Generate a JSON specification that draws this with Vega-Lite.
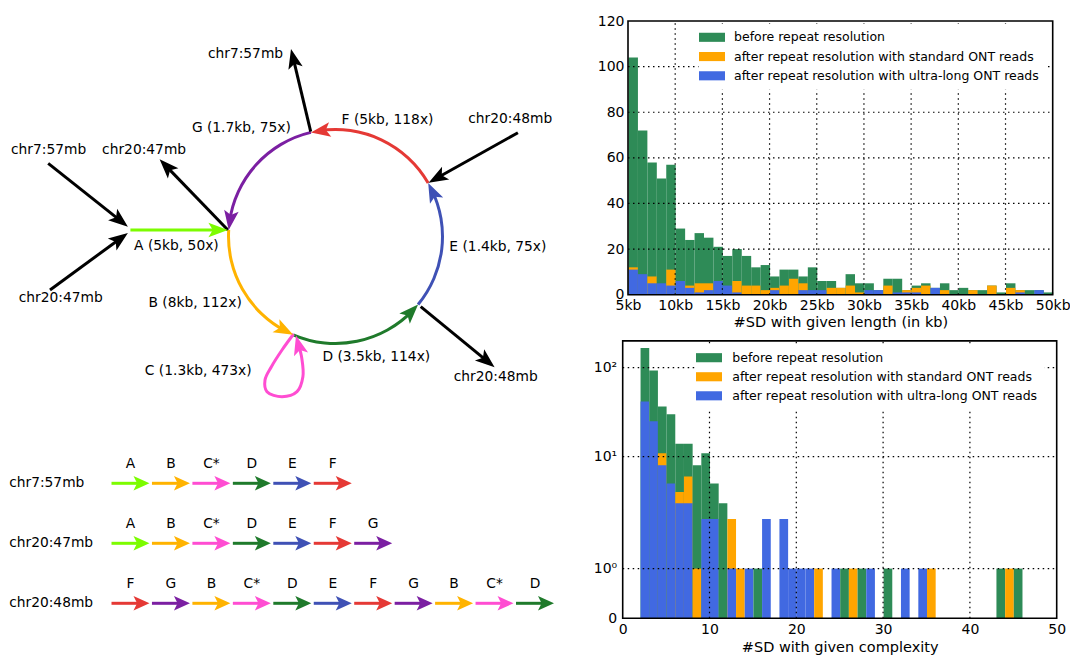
{
  "$schema": "https://vega.github.io/schema/vega-lite/v6.json",
  "width": 1070,
  "height": 656,
  "autosize": {"type": "none"},
  "padding": 0,
  "background": "white",
  "datasets": {
    "h1": [
      {"len":5,"before":104,"standard":12,"ultra":11},
      {"len":6,"before":72,"standard":0,"ultra":9},
      {"len":7,"before":58,"standard":8,"ultra":5},
      {"len":8,"before":51,"standard":0,"ultra":5},
      {"len":9,"before":57,"standard":11,"ultra":4},
      {"len":10,"before":29,"standard":0,"ultra":6},
      {"len":11,"before":24,"standard":4,"ultra":3},
      {"len":12,"before":27,"standard":5,"ultra":1},
      {"len":13,"before":25,"standard":5,"ultra":2},
      {"len":14,"before":21,"standard":0,"ultra":6},
      {"len":15,"before":17,"standard":0,"ultra":4},
      {"len":16,"before":20,"standard":6,"ultra":1},
      {"len":17,"before":17,"standard":4,"ultra":0},
      {"len":18,"before":12,"standard":4,"ultra":0},
      {"len":19,"before":13,"standard":2,"ultra":0},
      {"len":20,"before":8,"standard":3,"ultra":2},
      {"len":21,"before":11,"standard":4,"ultra":0},
      {"len":22,"before":11,"standard":7,"ultra":0},
      {"len":23,"before":8,"standard":5,"ultra":2},
      {"len":24,"before":12,"standard":0,"ultra":2},
      {"len":25,"before":6,"standard":0,"ultra":2},
      {"len":26,"before":6,"standard":3,"ultra":0},
      {"len":27,"before":3,"standard":3,"ultra":0},
      {"len":28,"before":9,"standard":4,"ultra":0},
      {"len":29,"before":5,"standard":1,"ultra":0},
      {"len":30,"before":5,"standard":0,"ultra":2},
      {"len":31,"before":2,"standard":0,"ultra":2},
      {"len":32,"before":7,"standard":4,"ultra":0},
      {"len":33,"before":7,"standard":0,"ultra":1},
      {"len":34,"before":2,"standard":2,"ultra":1},
      {"len":35,"before":4,"standard":3,"ultra":1},
      {"len":36,"before":5,"standard":4,"ultra":0},
      {"len":37,"before":3,"standard":0,"ultra":3},
      {"len":38,"before":5,"standard":2,"ultra":0},
      {"len":39,"before":2,"standard":0,"ultra":0},
      {"len":40,"before":3,"standard":0,"ultra":0},
      {"len":41,"before":2,"standard":2,"ultra":0},
      {"len":42,"before":2,"standard":0,"ultra":0},
      {"len":43,"before":4,"standard":4,"ultra":0},
      {"len":44,"before":1,"standard":0,"ultra":0},
      {"len":45,"before":5,"standard":3,"ultra":0},
      {"len":46,"before":2,"standard":2,"ultra":1},
      {"len":47,"before":2,"standard":0,"ultra":0},
      {"len":48,"before":2,"standard":0,"ultra":2},
      {"len":49,"before":1,"standard":0,"ultra":0}
    ],
    "h2": [
      {"c":2,"before":168,"standard":0,"ultra":42},
      {"c":3,"before":94,"standard":0,"ultra":25},
      {"c":4,"before":37,"standard":11,"ultra":8},
      {"c":5,"before":30,"standard":0,"ultra":5},
      {"c":6,"before":14,"standard":4,"ultra":3},
      {"c":7,"before":14,"standard":6,"ultra":3},
      {"c":8,"before":8,"standard":1,"ultra":0},
      {"c":9,"before":11,"standard":0,"ultra":2},
      {"c":10,"before":5,"standard":0,"ultra":2},
      {"c":11,"before":3,"standard":0,"ultra":0},
      {"c":12,"before":0,"standard":2,"ultra":1},
      {"c":13,"before":0,"standard":1,"ultra":0},
      {"c":14,"before":0,"standard":0,"ultra":1},
      {"c":15,"before":1,"standard":0,"ultra":0},
      {"c":16,"before":0,"standard":0,"ultra":2},
      {"c":18,"before":0,"standard":0,"ultra":2},
      {"c":19,"before":0,"standard":0,"ultra":1},
      {"c":20,"before":0,"standard":0,"ultra":1},
      {"c":21,"before":0,"standard":0,"ultra":1},
      {"c":22,"before":0,"standard":1,"ultra":0},
      {"c":24,"before":0,"standard":0,"ultra":1},
      {"c":25,"before":1,"standard":0,"ultra":0},
      {"c":26,"before":0,"standard":1,"ultra":0},
      {"c":27,"before":1,"standard":0,"ultra":0},
      {"c":28,"before":0,"standard":0,"ultra":1},
      {"c":30,"before":1,"standard":0,"ultra":0},
      {"c":32,"before":0,"standard":0,"ultra":1},
      {"c":34,"before":0,"standard":0,"ultra":1},
      {"c":35,"before":0,"standard":1,"ultra":0},
      {"c":43,"before":1,"standard":0,"ultra":0},
      {"c":44,"before":0,"standard":1,"ultra":0},
      {"c":45,"before":1,"standard":0,"ultra":0}
    ],
    "g1x": [{"t":10},{"t":15},{"t":20},{"t":25},{"t":30},{"t":35},{"t":40},{"t":45}],
    "g1y": [{"t":20},{"t":40},{"t":60},{"t":80},{"t":100}],
    "g2x": [{"t":10},{"t":20},{"t":30},{"t":40}],
    "g2y": [{"t":1},{"t":10},{"t":100}],
    "arcs": [
      {"seg":"G","t1":277.5,"t2":346.7},
      {"seg":"F","t1":350.7,"t2":420},
      {"seg":"E","t1":64,"t2":129.5},
      {"seg":"D","t1":133.5,"t2":203.3},
      {"seg":"B","t1":207.3,"t2":273.5}
    ],
    "edges": [
      {"seg":"ext","x1":-24.8,"y1":104.8,"x2":-42.6,"y2":179.7},
      {"seg":"ext","x1":-287.3,"y1":73.2,"x2":-213.9,"y2":14.8},
      {"seg":"ext","x1":-107.6,"y1":6.5,"x2":-170.3,"y2":71.4},
      {"seg":"ext","x1":-285.5,"y1":-53.5,"x2":-214.1,"y2":-1.2},
      {"seg":"ext","x1":182.4,"y1":103.8,"x2":100.1,"y2":57.7},
      {"seg":"ext","x1":85.2,"y1":-70.2,"x2":152.9,"y2":-125.7},
      {"seg":"A","x1":-205.1,"y1":6.5,"x2":-115.6,"y2":6.5}
    ],
    "heads": [
      {"seg":"ext","x":-44.5,"y":187.5,"dir":346.6},
      {"seg":"ext","x":-207.6,"y":9.8,"dir":128.5},
      {"seg":"ext","x":-175.9,"y":77.2,"dir":316},
      {"seg":"ext","x":-207.6,"y":3.5,"dir":53.8},
      {"seg":"ext","x":93.1,"y":53.8,"dir":240.8},
      {"seg":"ext","x":159.1,"y":-130.8,"dir":129.4},
      {"seg":"A","x":-107.6,"y":6.5,"dir":90},
      {"seg":"G","x":-106.8,"y":6.5,"dir":188},
      {"seg":"F","x":-24.6,"y":104.1,"dir":261.2},
      {"seg":"E","x":92.7,"y":53.5,"dir":334.5},
      {"seg":"D","x":82.6,"y":-68.1,"dir":44},
      {"seg":"B","x":-42.3,"y":-98.3,"dir":117.8},
      {"seg":"C","x":-39.5,"y":-99,"dir":345}
    ],
    "loop": [
      {"k":0,"x":-41.9,"y":-97.5},
      {"k":1,"x":-53.5,"y":-113.5},
      {"k":2,"x":-64.1,"y":-130.2},
      {"k":3,"x":-70.5,"y":-143.5},
      {"k":4,"x":-68.5,"y":-155.2},
      {"k":5,"x":-53.5,"y":-160.2},
      {"k":6,"x":-38.5,"y":-155.2},
      {"k":7,"x":-32.6,"y":-140.2},
      {"k":8,"x":-33.7,"y":-121.8},
      {"k":9,"x":-37.3,"y":-107}
    ],
    "dlabels": [
      {"x":-90,"y":182.5,"label":"chr7:57mb"},
      {"x":-94.1,"y":108.2,"label":"G (1.7kb, 75x)"},
      {"x":52,"y":116.5,"label":"F (5kb, 118x)"},
      {"x":174.7,"y":117.2,"label":"chr20:48mb"},
      {"x":-286.9,"y":86.5,"label":"chr7:57mb"},
      {"x":-191.4,"y":86.5,"label":"chr20:47mb"},
      {"x":-159.1,"y":-9.5,"label":"A (5kb, 50x)"},
      {"x":-274.8,"y":-61.8,"label":"chr20:47mb"},
      {"x":162.4,"y":-10.8,"label":"E (1.4kb, 75x)"},
      {"x":-140.3,"y":-66.8,"label":"B (8kb, 112x)"},
      {"x":40.8,"y":-120.8,"label":"D (3.5kb, 114x)"},
      {"x":-137.3,"y":-134.2,"label":"C (1.3kb, 473x)"},
      {"x":160.2,"y":-140.2,"label":"chr20:48mb"}
    ],
    "seq": [
      {"row":"chr7:57mb","i":0,"seg":"A","lab":"A"},
      {"row":"chr7:57mb","i":1,"seg":"B","lab":"B"},
      {"row":"chr7:57mb","i":2,"seg":"C","lab":"C*"},
      {"row":"chr7:57mb","i":3,"seg":"D","lab":"D"},
      {"row":"chr7:57mb","i":4,"seg":"E","lab":"E"},
      {"row":"chr7:57mb","i":5,"seg":"F","lab":"F"},
      {"row":"chr20:47mb","i":0,"seg":"A","lab":"A"},
      {"row":"chr20:47mb","i":1,"seg":"B","lab":"B"},
      {"row":"chr20:47mb","i":2,"seg":"C","lab":"C*"},
      {"row":"chr20:47mb","i":3,"seg":"D","lab":"D"},
      {"row":"chr20:47mb","i":4,"seg":"E","lab":"E"},
      {"row":"chr20:47mb","i":5,"seg":"F","lab":"F"},
      {"row":"chr20:47mb","i":6,"seg":"G","lab":"G"},
      {"row":"chr20:48mb","i":0,"seg":"F","lab":"F"},
      {"row":"chr20:48mb","i":1,"seg":"G","lab":"G"},
      {"row":"chr20:48mb","i":2,"seg":"B","lab":"B"},
      {"row":"chr20:48mb","i":3,"seg":"C","lab":"C*"},
      {"row":"chr20:48mb","i":4,"seg":"D","lab":"D"},
      {"row":"chr20:48mb","i":5,"seg":"E","lab":"E"},
      {"row":"chr20:48mb","i":6,"seg":"F","lab":"F"},
      {"row":"chr20:48mb","i":7,"seg":"G","lab":"G"},
      {"row":"chr20:48mb","i":8,"seg":"B","lab":"B"},
      {"row":"chr20:48mb","i":9,"seg":"C","lab":"C*"},
      {"row":"chr20:48mb","i":10,"seg":"D","lab":"D"}
    ]
  },
  "layer": [
    {
      "layer": [
        {
          "data": {"name": "h1"},
          "transform": [{"fold": ["before","standard","ultra"], "as": ["series","n"]}],
          "mark": {"type": "bar", "binSpacing": 0},
          "encoding": {
            "x": {"field": "len", "type": "quantitative", "bin": {"binned": true, "step": 1},
              "scale": {"domain": [5,50], "range": [628,1052.7]},
              "axis": {"orient": "bottom", "offset": -361.3, "values": [5,10,15,20,25,30,35,40,45,50], "labelExpr": "datum.value + 'kb'", "title": "#SD with given length (in kb)", "labelPadding": 4, "titlePadding": 3}},
            "y": {"field": "n", "type": "quantitative", "stack": null,
              "scale": {"domain": [0,120], "range": [294.7,21]},
              "axis": {"orient": "left", "offset": -628, "values": [0,20,40,60,80,100,120], "title": null, "labelPadding": 4}},
            "color": {"field": "series", "type": "nominal",
              "scale": {"domain": ["before","standard","ultra"], "range": ["#2e8b57","#ffa500","#4169e1"]},
              "legend": {"orient": "none", "legendX": 698.5, "legendY": 23.8, "title": null, "padding": 7, "fillColor": "white",
                "symbolType": "M-2,-0.7H2V0.7H-2Z", "symbolSize": 169, "symbolStrokeWidth": 0, "symbolOpacity": 1,
                "labelFontSize": 12.5, "labelFont": "DejaVu Sans", "labelColor": "black", "labelOffset": 15.5, "labelLimit": 500, "rowPadding": 6.25,
                "labelExpr": "datum.label == 'before' ? 'before repeat resolution' : datum.label == 'standard' ? 'after repeat resolution with standard ONT reads' : 'after repeat resolution with ultra-long ONT reads'"}}
          }
        },
        {
          "data": {"name": "g1x"},
          "mark": {"type": "rule", "color": "black", "strokeWidth": 1.2, "strokeDash": [1.5,3.5]},
          "encoding": {
            "x": {"field": "t", "type": "quantitative"},
            "y": {"datum": 0, "type": "quantitative"},
            "y2": {"datum": 120}
          }
        },
        {
          "data": {"name": "g1y"},
          "mark": {"type": "rule", "color": "black", "strokeWidth": 1.2, "strokeDash": [1.5,3.5]},
          "encoding": {
            "y": {"field": "t", "type": "quantitative"},
            "x": {"datum": 5, "type": "quantitative"},
            "x2": {"datum": 50}
          }
        },
        {
          "data": {"values": [{}]},
          "mark": {"type": "rect", "filled": false, "stroke": "black", "strokeWidth": 1.6},
          "encoding": {
            "x": {"datum": 5, "type": "quantitative"},
            "x2": {"datum": 50},
            "y": {"datum": 0, "type": "quantitative"},
            "y2": {"datum": 120}
          }
        }
      ]
    },
    {
      "layer": [
        {
          "data": {"name": "h2"},
          "transform": [{"fold": ["before","standard","ultra"], "as": ["series","n"]}],
          "mark": {"type": "bar", "binSpacing": 0},
          "encoding": {
            "x": {"field": "c", "type": "quantitative", "bin": {"binned": true, "step": 1},
              "scale": {"domain": [0,50], "range": [622.7,1056.7]},
              "axis": {"orient": "bottom", "offset": -37.7, "values": [0,10,20,30,40,50], "title": "#SD with given complexity", "labelPadding": 4, "titlePadding": 4}},
            "y": {"field": "n", "type": "quantitative", "stack": null,
              "scale": {"type": "linear", "zero": false, "nice": false,
                "domain": [0,1,2,3,4,5,6,7,8,9,10,12,15,20,25,30,40,50,70,100,150,200],
                "range": [618.3,568.6,518.9,503.2,492.1,483.5,476.4,470.5,465.3,460.8,456.7,449.6,441.0,429.9,421.3,414.2,403.1,394.5,381.5,367.7,352.0,340.9]},
              "axis": {"orient": "left", "offset": -622.7, "values": [0,1,10,100], "title": null, "labelPadding": 6,
                "labelExpr": "datum.value == 0 ? '0' : datum.value == 1 ? '10⁰' : datum.value == 10 ? '10¹' : '10²'"}},
            "color": {"field": "series", "type": "nominal",
              "scale": {"domain": ["before","standard","ultra"], "range": ["#2e8b57","#ffa500","#4169e1"]},
              "legend": {"orient": "none", "legendX": 695.5, "legendY": 344.2, "title": null, "padding": 7, "fillColor": "white",
                "symbolType": "M-2,-0.7H2V0.7H-2Z", "symbolSize": 169, "symbolStrokeWidth": 0, "symbolOpacity": 1,
                "labelFontSize": 12.5, "labelFont": "DejaVu Sans", "labelColor": "black", "labelOffset": 16.8, "labelLimit": 500, "rowPadding": 6.05,
                "labelExpr": "datum.label == 'before' ? 'before repeat resolution' : datum.label == 'standard' ? 'after repeat resolution with standard ONT reads' : 'after repeat resolution with ultra-long ONT reads'"}}
          }
        },
        {
          "data": {"name": "g2x"},
          "mark": {"type": "rule", "color": "black", "strokeWidth": 1.2, "strokeDash": [1.5,3.5]},
          "encoding": {
            "x": {"field": "t", "type": "quantitative"},
            "y": {"datum": 0, "type": "quantitative"},
            "y2": {"datum": 200}
          }
        },
        {
          "data": {"name": "g2y"},
          "mark": {"type": "rule", "color": "black", "strokeWidth": 1.2, "strokeDash": [1.5,3.5]},
          "encoding": {
            "y": {"field": "t", "type": "quantitative"},
            "x": {"datum": 0, "type": "quantitative"},
            "x2": {"datum": 50}
          }
        },
        {
          "data": {"values": [{}]},
          "mark": {"type": "rect", "filled": false, "stroke": "black", "strokeWidth": 1.6},
          "encoding": {
            "x": {"datum": 0, "type": "quantitative"},
            "x2": {"datum": 50},
            "y": {"datum": 0, "type": "quantitative"},
            "y2": {"datum": 200}
          }
        }
      ]
    },
    {
      "layer": [
        {
          "data": {"name": "arcs"},
          "mark": {"type": "arc", "radius": 108.5, "radius2": 105.5},
          "encoding": {
            "x": {"datum": 0, "type": "quantitative", "scale": {"domain": [-335.5,734.5], "range": [0,1070]}, "axis": null},
            "y": {"datum": 0, "type": "quantitative", "scale": {"domain": [-419.5,236.5], "range": [656,0]}, "axis": null},
            "theta": {"field": "t1", "type": "quantitative", "stack": null, "scale": {"domain": [0,360], "range": [0,6.283185307179586]}},
            "theta2": {"field": "t2"},
            "color": {"field": "seg", "type": "nominal", "legend": null,
              "scale": {"domain": ["A","B","C","D","E","F","G","ext"], "range": ["#7cfc00","#ffb300","#ff4dd2","#1f7a2b","#3f51b5","#e53935","#7b1fa2","#000000"]}}
          }
        },
        {
          "data": {"name": "edges"},
          "mark": {"type": "rule", "strokeWidth": 3},
          "encoding": {
            "x": {"field": "x1", "type": "quantitative", "scale": {"domain": [-335.5,734.5], "range": [0,1070]}, "axis": null},
            "y": {"field": "y1", "type": "quantitative", "scale": {"domain": [-419.5,236.5], "range": [656,0]}, "axis": null},
            "x2": {"field": "x2"},
            "y2": {"field": "y2"},
            "color": {"field": "seg", "type": "nominal", "legend": null,
              "scale": {"domain": ["A","B","C","D","E","F","G","ext"], "range": ["#7cfc00","#ffb300","#ff4dd2","#1f7a2b","#3f51b5","#e53935","#7b1fa2","#000000"]}}
          }
        },
        {
          "data": {"name": "loop"},
          "mark": {"type": "line", "strokeWidth": 3, "interpolate": "catmull-rom"},
          "encoding": {
            "x": {"field": "x", "type": "quantitative", "scale": {"domain": [-335.5,734.5], "range": [0,1070]}, "axis": null},
            "y": {"field": "y", "type": "quantitative", "scale": {"domain": [-419.5,236.5], "range": [656,0]}, "axis": null},
            "order": {"field": "k", "type": "quantitative"},
            "color": {"datum": "C", "type": "nominal", "legend": null,
              "scale": {"domain": ["A","B","C","D","E","F","G","ext"], "range": ["#7cfc00","#ffb300","#ff4dd2","#1f7a2b","#3f51b5","#e53935","#7b1fa2","#000000"]}}
          }
        },
        {
          "data": {"name": "heads"},
          "mark": {"type": "point", "shape": "M0,0L0.75,2L0,1.55L-0.75,2Z", "size": 380, "filled": true, "opacity": 1, "strokeWidth": 0},
          "encoding": {
            "x": {"field": "x", "type": "quantitative", "scale": {"domain": [-335.5,734.5], "range": [0,1070]}, "axis": null},
            "y": {"field": "y", "type": "quantitative", "scale": {"domain": [-419.5,236.5], "range": [656,0]}, "axis": null},
            "angle": {"field": "dir", "type": "quantitative", "scale": null},
            "color": {"field": "seg", "type": "nominal", "legend": null,
              "scale": {"domain": ["A","B","C","D","E","F","G","ext"], "range": ["#7cfc00","#ffb300","#ff4dd2","#1f7a2b","#3f51b5","#e53935","#7b1fa2","#000000"]}}
          }
        },
        {
          "data": {"name": "dlabels"},
          "mark": {"type": "text", "fontSize": 13.8, "font": "DejaVu Sans", "color": "black"},
          "encoding": {
            "x": {"field": "x", "type": "quantitative", "scale": {"domain": [-335.5,734.5], "range": [0,1070]}, "axis": null},
            "y": {"field": "y", "type": "quantitative", "scale": {"domain": [-419.5,236.5], "range": [656,0]}, "axis": null},
            "text": {"field": "label"}
          }
        }
      ]
    },
    {
      "data": {"name": "seq"},
      "layer": [
        {
          "mark": {"type": "rule", "strokeWidth": 3, "x2Offset": 30},
          "encoding": {
            "x": {"field": "i", "type": "quantitative", "scale": {"domain": [0,11], "range": [111.5,556.45]}, "axis": null},
            "x2": {"field": "i"},
            "y": {"field": "row", "type": "nominal", "scale": {"type": "point", "domain": ["chr7:57mb","chr20:47mb","chr20:48mb"], "range": [483.3,603.3], "padding": 0}, "axis": null},
            "color": {"field": "seg", "type": "nominal", "legend": null,
              "scale": {"domain": ["A","B","C","D","E","F","G"], "range": ["#7cfc00","#ffb300","#ff4dd2","#1f7a2b","#3f51b5","#e53935","#7b1fa2"]}}
          }
        },
        {
          "mark": {"type": "point", "shape": "M0,0L0.9,2L0,1.55L-0.9,2Z", "size": 256, "filled": true, "opacity": 1, "strokeWidth": 0, "angle": 90, "xOffset": 38},
          "encoding": {
            "x": {"field": "i", "type": "quantitative", "axis": null},
            "y": {"field": "row", "type": "nominal", "axis": null},
            "color": {"field": "seg", "type": "nominal", "legend": null}
          }
        },
        {
          "mark": {"type": "text", "fontSize": 13.8, "font": "DejaVu Sans", "color": "black", "xOffset": 19, "yOffset": -19},
          "encoding": {
            "x": {"field": "i", "type": "quantitative", "axis": null},
            "y": {"field": "row", "type": "nominal", "axis": null},
            "text": {"field": "lab"}
          }
        },
        {
          "transform": [{"filter": "datum.i == 0"}],
          "mark": {"type": "text", "fontSize": 13.8, "font": "DejaVu Sans", "color": "black", "align": "left"},
          "encoding": {
            "x": {"datum": -2.53, "type": "quantitative", "axis": null},
            "y": {"field": "row", "type": "nominal", "axis": null},
            "text": {"field": "row"}
          }
        }
      ]
    }
  ],
  "resolve": {
    "scale": {"x": "independent", "y": "independent", "color": "independent"},
    "axis": {"x": "independent", "y": "independent"},
    "legend": {"color": "independent"}
  },
  "config": {
    "view": {"stroke": null},
    "font": "DejaVu Sans",
    "axis": {
      "labelFont": "DejaVu Sans", "titleFont": "DejaVu Sans", "labelFontSize": 14, "titleFontSize": 14.5,
      "titleFontWeight": "normal", "labelColor": "black", "titleColor": "black",
      "domain": false, "ticks": false, "grid": false, "labelFlush": false, "labelOverlap": false
    },
    "text": {"font": "DejaVu Sans", "color": "black"}
  }
}
